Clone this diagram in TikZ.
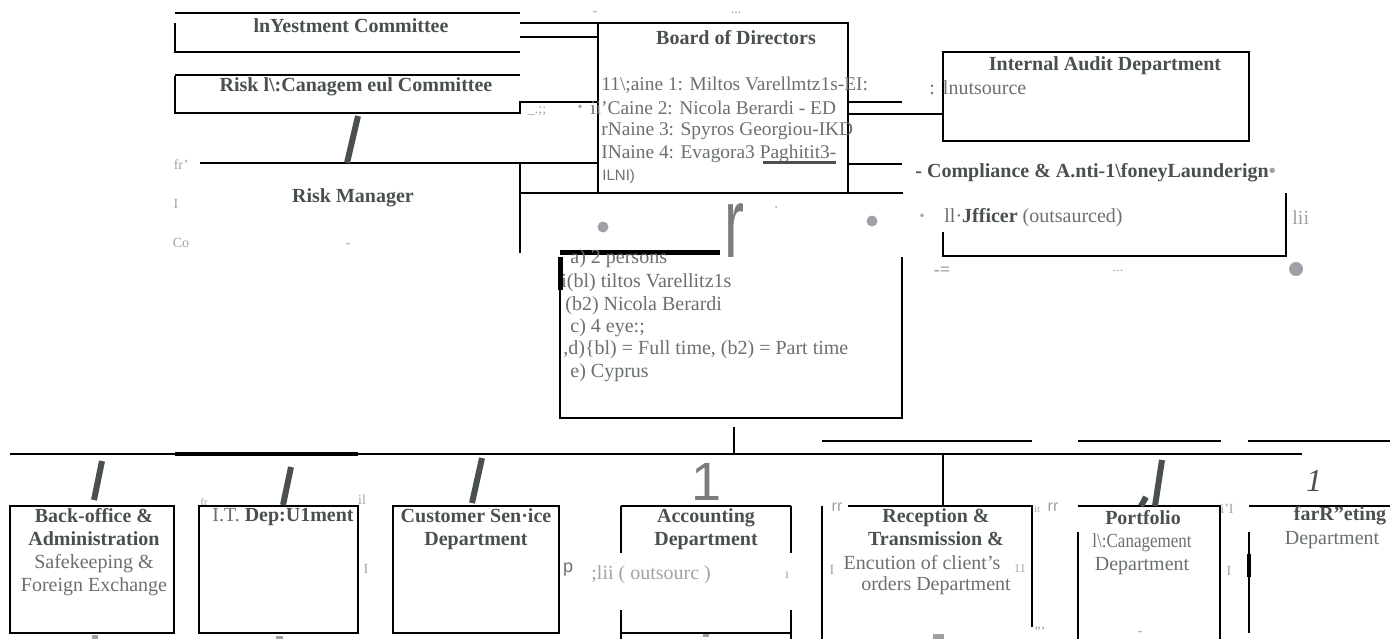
\documentclass[tikz,border=0pt]{standalone}
\usepackage{fontspec}
\setmainfont{Liberation Serif}
\setsansfont{Liberation Sans}
\usetikzlibrary{positioning}

\definecolor{ink}{HTML}{4A5050}
\definecolor{inkgray}{HTML}{6A6F6F}
\definecolor{fog}{HTML}{9EA2A7}

\begin{document}
\begin{tikzpicture}[x=0.5pt, y=-0.5pt,
    box/.style={line width=1pt},
    thinbox/.style={line width=0.6pt},
    head/.style={font=\fontsize{10}{11.5}\selectfont\bfseries, text=ink, inner sep=0pt, align=center},
    body/.style={font=\fontsize{10}{11.5}\selectfont, text=inkgray, inner sep=0pt, align=center},
    member/.style={font=\fontsize{9.7}{11}\selectfont, text=inkgray, inner sep=0pt, anchor=west},
    noise/.style={font=\fontsize{7}{8}\selectfont, text=fog, inner sep=0pt},
    slash/.style={line width=3pt, draw=ink}
]
    \useasboundingbox (0,0) rectangle (1390,639);

    % Committees
    \draw[box] (175,13) -- (520,13);
    \draw[box] (175,23) -- (175,52) -- (520,52);
    \draw[box] (520,23) -- (598,23);
    \draw[box] (520,37) -- (598,37);
    \node[head] (invest) at (351,26) {lnYestment Committee};
    \draw[box] (175,75) -- (520,75);
    \draw[box] (175,76) -- (175,113) -- (520,113) -- (520,102) -- (598,102);
    \node[head] (riskcom) at (356,87) {Risk l\textbackslash:Canagem eul Committee};

    % Board of Directors
    \draw[box] (598,23) rectangle (848,193);
    \node[head] (board) at (736,38) {Board of Directors};
    \node[member] (mem1) at (601,85) {11\textbackslash;aine 1: Miltos Varellmtz1s-EI:};
    \node[member] (mem2) at (590,108) {ii'Caine 2: Nicola Berardi - ED};
    \node[member] (mem3) at (601,131) {rNaine 3: Spyros Georgiou-IKD};
    \node[member] (mem4) at (601,154) {INaine 4: Evagora3 Paghitit3-};
    \draw[line width=1.5pt, ink] (763,162) -- (836,162);
    \node[member, font=\sffamily\fontsize{7.5}{8}\selectfont] (mem5) at (602,177) {ILNI)};
    \node[noise] (dot1) at (580,108) {•};
    \node[noise] (tick1) at (537,111) {\_.;;};
    \node[noise] (tick2) at (595,14) {-};
    \node[noise] (tick3) at (736,13) {...};

    % Risk Manager
    \draw[box] (200,163) -- (598,163);
    \draw[box] (520,163) -- (520,253);
    \draw[box] (520,193) -- (903,193);
    \draw[slash] (347,163) -- (358,116);
    \node[head] (riskman) at (353,198) {Risk Manager};
    \node[noise] (n1) at (181,165) {fr'};
    \node[noise] (n2) at (176,204) {I};
    \node[noise] (n3) at (181,243) {Co};
    \node[noise] (n4) at (348,246) {-};

    % Internal Audit and Compliance
    \draw[box] (848,102) -- (902,102);
    \draw[box] (848,114) -- (943,114);
    \draw[box] (848,164) -- (902,164);
    \draw[box] (943,52) rectangle (1249,141);
    \node[head] (audit) at (1105,66) {Internal Audit Department};
    \node[body, anchor=west] (auditsub) at (929,88) {:\hspace{4pt}lnutsource};
    \node[head, anchor=west] (compl) at (915,173) {- Compliance \& A.nti-1\textbackslash foneyLaunderign\textcolor{fog}{•}};
    \draw[box] (943,232) -- (943,256) -- (1286,256) -- (1286,193);
    \node[noise] (dot2) at (922,217) {•};
    \node[body, anchor=west] (officer) at (944,218) {ll·\textbf{\textcolor{ink}{Jfficer}} (outsaurced)};
    \node[noise, font=\fontsize{10}{11}\selectfont, anchor=west] (n5) at (1292,218) {lii};
    \node[noise, font=\fontsize{9}{10}\selectfont\bfseries] (n6) at (942,271) {-=};
    \node[noise] (n7) at (1118,271) {...};
    \fill[fog] (1296,269) circle (7);

    % Details
    \fill[fog] (603,227) circle (5.5);
    \fill[fog] (872,221) circle (5.5);
    \fill[fog] (776,207) circle (1);
    \node[text=inkgray!90, font=\sffamily\fontsize{50}{50}\selectfont, inner sep=0pt] (bigr) at (734,231) {\scalebox{0.6}[1]{r}};
    \draw[line width=2.5pt] (560,252) -- (720,252);
    \draw[line width=2.5pt] (560,257) -- (560,290);
    \draw[box] (560,290) -- (560,418) -- (902,418) -- (902,257);
    \node[body, anchor=west] (da) at (570,259) {a) 2 persons};
    \node[body, anchor=west] (db1) at (561,283) {i(bl) tiltos Varellitz1s};
    \node[body, anchor=west] (db2) at (565,306) {(b2) Nicola Berardi};
    \node[body, anchor=west] (dc) at (570,328) {c) 4 eye:;};
    \node[body, anchor=west] (dd) at (563,350) {,d)\{bl) = Full time, (b2) = Part time};
    \node[body, anchor=west] (de) at (570,373) {e) Cyprus};

    % Departments line
    \draw[box] (734,427) -- (734,454);
    \draw[box] (10,454) -- (1302,454);
    \draw[line width=2.2pt] (175,454) -- (358,454);
    \draw[box] (822,441) -- (1032,441);
    \draw[box] (1078,441) -- (1221,441);
    \draw[box] (1248,441) -- (1390,441);

    % Back-office, I.T., Customer Service
    \draw[box] (10,506) rectangle (174,633);
    \draw[slash] (94,500) -- (102,461);
    \node[body, anchor=north] (backoff) at (94,508) {\textcolor{ink}{\bfseries Back-office \&}\\ \textcolor{ink}{\bfseries Administration}\\ Safekeeping \&\\ Foreign Exchange};
    \fill[fog] (92,635) rectangle (98,639);
    \draw[box] (199,506) rectangle (358,633);
    \draw[slash] (283,505) -- (291,467);
    \node[body, anchor=north] (itdept) at (283,508) {I.T. \textcolor{ink}{\bfseries Dep:U1ment}};
    \fill[fog] (276,636) rectangle (283,639);
    \node[noise, font=\fontsize{5}{6}\selectfont] (n8) at (204,502) {fr};
    \node[noise] (n9) at (362,500) {il};
    \node[noise] (n10) at (366,569) {I};
    \draw[box] (393,506) rectangle (559,633);
    \draw[slash] (472,503) -- (482,458);
    \node[head, anchor=north] (custom) at (476,508) {Customer Sen·ice\\Department};
    \node[noise, text=inkgray, font=\sffamily\fontsize{9}{10}\selectfont] (n11) at (568,570) {p};

    % Accounting
    \node[text=inkgray!90, font=\sffamily\fontsize{27}{27}\selectfont, inner sep=0pt] (bigone) at (707,482) {1};
    \draw[thinbox] (621,506) -- (791,506);
    \draw[thinbox] (621,506) -- (621,553);
    \draw[thinbox] (621,610) -- (621,639);
    \draw[thinbox] (791,506) -- (791,553);
    \draw[thinbox] (791,610) -- (791,639);
    \draw[thinbox] (621,633) -- (791,633);
    \node[head, anchor=north] (account) at (706,508) {Accounting\\Department};
    \node[body, text=fog, anchor=west] (accsub) at (591,575) {;lii ( outsourc )};
    \node[noise] (n12) at (787,575) {ı};
    \fill[fog] (703,634) rectangle (709,637);

    % Reception
    \draw[box] (943,454) -- (943,506);
    \draw[box] (848,506) -- (1032,506) -- (1032,627);
    \draw[thinbox] (822,506) -- (822,639);
    \node[head, anchor=north] (recept) at (936,508) {Reception \&\\Transmission \&};
    \node[body] (recsub1) at (922,563) {Encution of client's};
    \node[body] (recsub2) at (936,586) {orders Department};
    \node[noise, font=\sffamily\fontsize{8}{9}\selectfont] (n13) at (837,507) {rr};
    \node[noise] (n14) at (832,570) {I};
    \node[noise, font=\fontsize{6}{7}\selectfont] (n15) at (1020,569) {11};
    \node[noise, font=\fontsize{5}{6}\selectfont] (n16) at (1037,509) {it};
    \node[noise, font=\sffamily\fontsize{8}{9}\selectfont] (n17) at (1053,507) {rr};
    \node[noise] (n18) at (1040,632) {'''};
    \fill[fog] (933,634) rectangle (944,639);

    % Portfolio
    \draw[box] (1078,506) -- (1220,506) -- (1220,639);
    \draw[thinbox] (1078,532) -- (1078,639);
    \draw[slash] (1162,460) -- (1155,506);
    \draw[slash] (1141,506) -- (1146,497);
    \node[head] (portf) at (1143,518) {Portfolio};
    \node[body, anchor=north] (portsub) at (1142,533) {\scalebox{0.85}[1]{l\textbackslash:Canagement}\\Department};
    \node[noise] (n19) at (1227,509) {i'I};
    \node[noise] (n20) at (1229,571) {I};
    \node[noise] (n21) at (1140,634) {-};

    % Marketing
    \draw[box] (1249,506) -- (1390,506);
    \draw[thinbox] (1249,532) -- (1249,633);
    \draw[line width=2pt] (1249,554) -- (1249,577);
    \node[text=ink, font=\fontsize{16}{16}\selectfont\itshape, inner sep=0pt] (ione) at (1314,481) {1};
    \node[head] (market) at (1340,516) {farR''eting};
    \node[body] (marksub) at (1332,540) {Department};
\end{tikzpicture}
\end{document}
